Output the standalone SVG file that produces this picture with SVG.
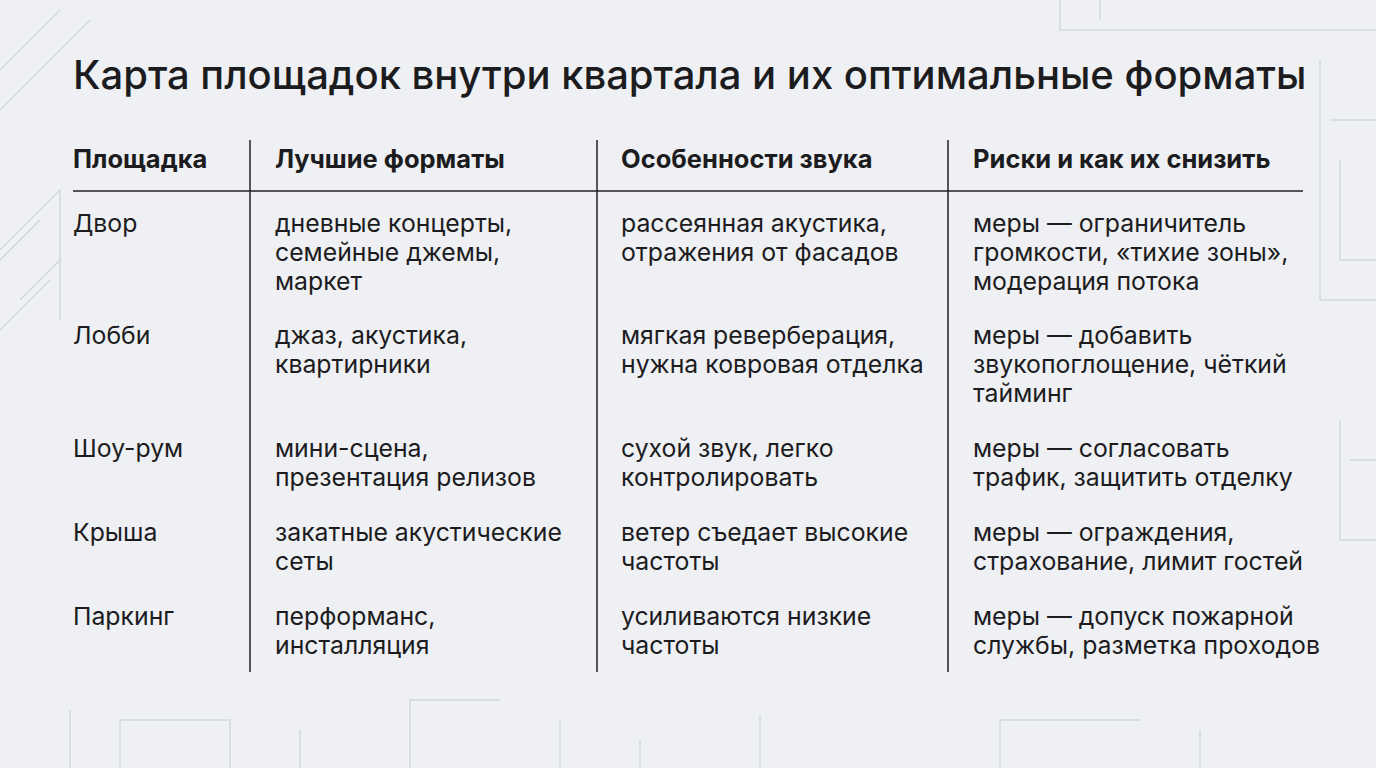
<svg xmlns="http://www.w3.org/2000/svg" width="1376" height="768" viewBox="0 0 1376 768">
<style>
text{font-family:Inter,"Noto Sans","Liberation Sans",sans-serif;fill:#1c1c1e}
.t{font-size:40px;font-weight:500}
.h{font-size:25.5px;font-weight:700}
.b{font-size:24.8px}
.bg{stroke:#d3d8de;stroke-width:1.5;fill:none}
.ln{stroke:#222;stroke-width:1.5}
</style>
<rect width="1376" height="768" fill="#eef0f3"/>
<g class="bg">
<path d="M0 70 L60 10 M0 110 L90 20 M0 250 L60 190 L60 320 M0 260 L40 220 M20 300 L60 260 M0 330 L50 280"/>
<path d="M1060 0 V30 H1376 M1100 0 V20 M1320 60 V300 M1330 120 H1376 M1340 160 V260 H1376 M1320 300 H1376 M1340 420 V540 H1376 M1350 460 H1376"/>
<path d="M70 768 V710 M120 768 V720 H230 V768 M300 768 V730 M410 768 V700 H500 M560 768 V720 M640 768 V740 M760 768 V715 M1000 768 V720 H1140 M1200 768 V730"/>
</g>
<text class="t" x="73" y="89">Карта площадок внутри квартала и их оптимальные форматы</text>
<g class="ln">
<line x1="73" y1="191" x2="1303" y2="191"/>
<line x1="250" y1="140" x2="250" y2="672"/>
<line x1="597" y1="140" x2="597" y2="672"/>
<line x1="948" y1="140" x2="948" y2="672"/>
</g>
<g class="h">
<text x="73" y="168">Площадка</text>
<text x="275" y="168">Лучшие форматы</text>
<text x="621" y="168">Особенности звука</text>
<text x="973" y="168">Риски и как их снизить</text>
</g>
<g class="b">
<text x="73" y="232">Двор</text>
<text x="275" y="232">дневные концерты,<tspan x="275" dy="29">семейные джемы,</tspan><tspan x="275" dy="29">маркет</tspan></text>
<text x="621" y="232">рассеянная акустика,<tspan x="621" dy="29">отражения от фасадов</tspan></text>
<text x="973" y="232">меры — ограничитель<tspan x="973" dy="29">громкости, «тихие зоны»,</tspan><tspan x="973" dy="29">модерация потока</tspan></text>
<text x="73" y="344">Лобби</text>
<text x="275" y="344">джаз, акустика,<tspan x="275" dy="29">квартирники</tspan></text>
<text x="621" y="344">мягкая реверберация,<tspan x="621" dy="29">нужна ковровая отделка</tspan></text>
<text x="973" y="344">меры — добавить<tspan x="973" dy="29">звукопоглощение, чёткий</tspan><tspan x="973" dy="29">тайминг</tspan></text>
<text x="73" y="457">Шоу-рум</text>
<text x="275" y="457">мини-сцена,<tspan x="275" dy="29">презентация релизов</tspan></text>
<text x="621" y="457">сухой звук, легко<tspan x="621" dy="29">контролировать</tspan></text>
<text x="973" y="457">меры — согласовать<tspan x="973" dy="29">трафик, защитить отделку</tspan></text>
<text x="73" y="541">Крыша</text>
<text x="275" y="541">закатные акустические<tspan x="275" dy="29">сеты</tspan></text>
<text x="621" y="541">ветер съедает высокие<tspan x="621" dy="29">частоты</tspan></text>
<text x="973" y="541">меры — ограждения,<tspan x="973" dy="29">страхование, лимит гостей</tspan></text>
<text x="73" y="625">Паркинг</text>
<text x="275" y="625">перформанс,<tspan x="275" dy="29">инсталляция</tspan></text>
<text x="621" y="625">усиливаются низкие<tspan x="621" dy="29">частоты</tspan></text>
<text x="973" y="625">меры — допуск пожарной<tspan x="973" dy="29">службы, разметка проходов</tspan></text>
</g>
</svg>
